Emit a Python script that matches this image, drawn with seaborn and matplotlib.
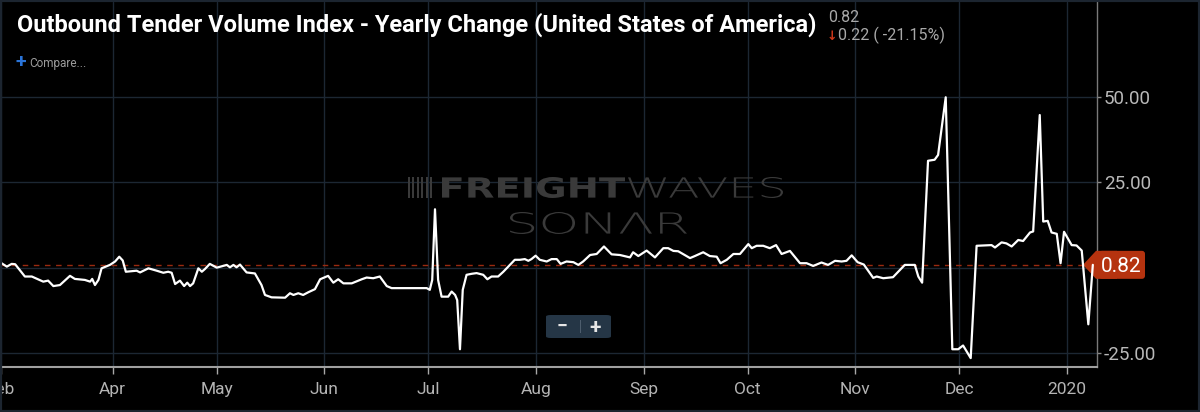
import matplotlib
matplotlib.use('Agg')
import matplotlib.pyplot as plt
import pandas as pd
import seaborn as sns
from matplotlib.font_manager import FontProperties
from matplotlib.patches import Polygon, FancyBboxPatch, Rectangle, PathPatch
from matplotlib.textpath import TextPath
from matplotlib.transforms import IdentityTransform, Affine2D

# days counted from 2019-03-01, values = yearly change in %
days = [-1.5, 0.5, 1.9, 2.9, 5.7, 7.7, 11.0, 12.4, 13.9, 15.8, 18.7, 20.1, 23.0, 24.5, 25.1, 25.9,
        26.9, 27.8, 30.2, 31.7, 32.9, 33.9, 34.8, 37.9, 38.9, 41.3, 43.7, 45.6, 47.0, 48.0, 49.0,
        50.4, 51.6, 52.5, 53.3, 54.2, 55.7, 56.7, 57.6, 59.0, 61.0, 63.9, 64.8, 65.8, 66.7, 67.7,
        69.6, 72.0, 73.9, 74.9, 76.8, 80.7, 82.1, 83.1, 84.5, 85.9, 87.4, 89.3, 90.8, 93.1, 94.6,
        96.0, 97.5, 99.9, 102.8, 104.2, 106.1, 108.0, 110.0, 111.4, 116.7, 121.5, 122.4, 123.1,
        123.9, 124.8, 125.8, 127.7, 128.7, 129.7, 130.3, 131.1, 131.9, 133.0, 134.5, 135.9, 137.8,
        139.0, 140.2, 142.1, 143.6, 145.0, 146.9, 148.4, 149.8, 150.8, 151.7, 152.9, 154.1, 156.1,
        157.5, 159.0, 160.1, 161.8, 163.8, 165.2, 166.6, 168.6, 170.5, 172.6, 174.8, 177.2, 180.1,
        181.0, 182.5, 184.9, 187.3, 189.7, 191.1, 192.6, 194.0, 197.4, 198.8, 201.2, 203.1, 205.1,
        206.2, 208.0, 209.9, 211.8, 214.2, 215.2, 216.6, 218.5, 220.4, 222.2, 223.8, 226.2, 229.1,
        231.0, 232.9, 235.3, 237.2, 239.2, 241.1, 242.5, 244.0, 245.7, 247.5, 250.2, 251.2, 253.1,
        255.9, 259.3, 262.2, 263.2, 264.3, 266.0, 267.9, 268.9, 271.1, 273.0, 274.7, 276.1, 278.3,
        280.0, 282.4, 284.3, 285.3, 287.2, 288.6, 290.1, 292.0, 293.4, 295.4, 296.3, 298.2, 299.2,
        300.5, 301.6, 303.1, 304.2, 305.2, 307.4, 308.8, 310.3, 312.2, 313.5]
values = [1.6, 0.3, 1.1, 1.0, -2.6, -2.6, -4.1, -3.8, -5.4, -5.1, -2.4, -3.3, -3.6, -4.1, -3.3, -5.1,
          -3.6, -0.2, 0.8, 1.8, 3.2, 2.1, -1.2, -0.9, -1.4, -0.2, -0.9, -1.5, -1.2, -1.5, -4.8,
          -3.8, -5.4, -4.4, -5.4, -4.6, -0.2, -1.2, -0.4, 1.1, 0.0, 0.8, 0.1, 0.8, 0.1, 0.9,
          -1.4, -1.7, -5.1, -8.0, -8.7, -8.8, -7.5, -8.0, -7.5, -8.0, -7.2, -6.3, -3.4, -2.4, -4.4,
          -3.4, -4.6, -4.6, -3.4, -2.9, -3.1, -2.6, -5.4, -6.0, -6.0, -6.0, -6.5, -3.6,
          17.1, -3.6, -8.5, -8.5, -7.0, -8.0, -9.5, -23.9, -6.5, -2.1, -1.8, -1.6, -2.1,
          -3.4, -2.6, -2.6, -1.2, 0.3, 2.3, 2.3, 2.5, 2.0, 2.5, 3.5, 2.3, 1.8,
          2.5, 2.5, 1.1, 1.8, 1.6, 0.8, 1.8, 3.7, 4.0, 6.2, 3.9, 3.7, 3.0,
          4.5, 3.4, 5.0, 3.0, 5.7, 5.7, 4.9, 4.8, 2.8, 3.4, 4.5, 3.4, 3.2,
          1.3, 2.3, 4.0, 4.0, 6.9, 5.7, 6.4, 6.4, 5.7, 6.6, 4.0, 4.9, 1.3,
          1.3, 0.5, 1.5, 0.8, 2.0, 1.8, 2.0, 3.6, 1.6, 0.9, -3.0, -2.6, -3.1,
          -2.8, 0.8, 0.8, -2.6, -4.4, 31.3, 31.6, 33.0, 49.9, -23.9, -23.9, -22.8, -26.5,
          6.4, 6.5, 6.6, 5.9, 7.4, 7.1, 6.2, 8.1, 7.8, 10.3, 10.6, 44.7, 13.5,
          13.7, 10.3, 9.9, 1.3, 10.5, 6.6, 6.5, 5.0, -16.6, 0.82]

last_value = 0.82
change_text = '0.22 ( -21.15%)'
title = 'Outbound Tender Volume Index - Yearly Change (United States of America)'

month_ticks = [-1.2, 31, 61, 92, 122, 153, 184, 214, 245, 275, 306]
month_labels = ['Feb', 'Apr', 'May', 'Jun', 'Jul', 'Aug', 'Sep', 'Oct', 'Nov', 'Dec', '2020']
y_ticks = [-25, 0, 25, 50]
y_labels = ['-25.00', '', '25.00', '50.00']

sns.set_theme(style='dark')
plt.rcParams['font.family'] = ['Roboto', 'DejaVu Sans']

W, H = 1200, 412
fig = plt.figure(figsize=(W / 100, H / 100), dpi=100, facecolor='black')
ax = fig.add_axes([0, 45 / H, 1097 / W, 365 / H])
ax.set_facecolor('black')

df = pd.DataFrame({'day': days, 'value': values})
sns.lineplot(data=df, x='day', y='value', ax=ax, color='white', lw=1.6,
             estimator=None, sort=False, zorder=5)

ax.set_xlim(-1.47, 314.7)
ax.set_ylim(-29.1, 77.8)
ax.set_xlabel('')
ax.set_ylabel('')

ax.yaxis.tick_right()
ax.set_xticks(month_ticks)
ax.set_xticklabels(month_labels)
ax.set_yticks(y_ticks)
ax.set_yticklabels(y_labels)
ax.tick_params(axis='x', colors='#a8a8a8', labelcolor='#b4b4b4', length=5, width=1,
               pad=6, labelsize=12.5, bottom=True)
ax.tick_params(axis='y', colors='#8a8a8a', labelcolor='#b9b9b9', length=3, width=1,
               pad=2, labelsize=13.5, right=True, left=False)
ax.grid(True, color='#1c2733', lw=1)
ax.set_axisbelow(True)
for side in ['top', 'left']:
    ax.spines[side].set_visible(False)
ax.spines['bottom'].set_color('#a0a0a0')
ax.spines['bottom'].set_linewidth(1.5)
ax.spines['right'].set_color('#7a7a7a')
ax.spines['right'].set_linewidth(1)

# last value guide line and tag (tag sits under the series line)
ax.axhline(last_value, xmax=0.988, color='#9a2a10', lw=1, ls=(0, (4, 4)), zorder=3)
tx, ty = ax.transData.transform((ax.get_xlim()[1], last_value))
ax.add_patch(Polygon([(tx - 14, ty), (tx - 1, ty + 14), (tx + 20, ty + 14),
                      (tx + 20, ty - 14), (tx - 1, ty - 14)],
                     closed=True, fc='#b5330f', ec='none', transform=IdentityTransform(),
                     clip_on=False, zorder=4))
ax.add_patch(FancyBboxPatch((tx + 2, ty - 14), 46, 28, boxstyle='round,pad=0,rounding_size=3',
                            fc='#b5330f', ec='none', transform=IdentityTransform(),
                            clip_on=False, zorder=4))
fig.text(tx + 24, ty, f'{last_value:.2f}', color='white', fontsize=15, ha='center',
         va='center_baseline', transform=IdentityTransform(), zorder=11)

# watermark, stretched to the box it fills in the reference (pixels from top-left)
wm = '#3a3a3a'


def stretched(text, x0, x1, top, bottom, weight):
    path = TextPath((0, 0), text, size=40, prop=FontProperties(family='DejaVu Sans', weight=weight))
    ext = path.get_extents()
    sx = (x1 - x0) / ext.width
    sy = (bottom - top) / ext.height
    tr = Affine2D().translate(-ext.x0, -ext.y0).scale(sx, sy).translate(x0, H - bottom)
    fig.add_artist(PathPatch(tr.transform_path(path), fc=wm, ec='none',
                             transform=IdentityTransform(), zorder=0.2))


stretched('FREIGHT', 442, 625, 177, 198, 'heavy')
stretched('WAVES', 628, 783, 177, 198, 'ultralight')
stretched('SON\u039bR', 510, 687, 212, 234, 'ultralight')
for i in range(6):
    fig.add_artist(Rectangle(((408 + i * 4.4) / W, 1 - 198 / H), 2 / W, 21 / H,
                             transform=fig.transFigure, fc=wm, ec='none', zorder=0.2))

# zoom control
fig.add_artist(FancyBboxPatch((546 / W, 1 - 338 / H), 65 / W, 23 / H,
                              boxstyle='round,pad=0,rounding_size=0.004',
                              transform=fig.transFigure, fc='#253646', ec='none', zorder=6))
fig.text(562 / W, 1 - 327 / H, '\u2212', color='#e6e6e6', fontsize=14, fontweight='bold',
         ha='center', va='center', zorder=7)
fig.text(595 / W, 1 - 327 / H, '+', color='#e6e6e6', fontsize=15, fontweight='bold',
         ha='center', va='center', zorder=7)
fig.add_artist(Rectangle((580 / W, 1 - 333 / H), 1 / W, 13 / H, transform=fig.transFigure,
                         fc='#4d5d6d', ec='none', zorder=7))

# header texts
fig.text(17 / W, 1 - 32 / H, title, color='white', fontsize=17, fontweight='bold',
         family=['Liberation Sans Narrow', 'Roboto', 'DejaVu Sans'], ha='left', va='baseline')
fig.text(828 / W, 1 - 22 / H, f'{last_value:.2f}', color='#a9a9a9', fontsize=11.5,
         ha='left', va='baseline')
fig.text(827 / W, 1 - 40 / H, '\u2193', color='#d0381a', fontsize=9, fontweight='bold',
         family=['DejaVu Sans'], ha='left', va='baseline')
fig.text(838 / W, 1 - 40 / H, change_text, color='#a9a9a9', fontsize=11.5,
         ha='left', va='baseline')
fig.text(15 / W, 1 - 67 / H, '+', color='#2a74d8', fontsize=14, fontweight='bold',
         ha='left', va='baseline')
fig.text(29 / W, 1 - 67 / H, 'Compare...', color='#9c9c9c', fontsize=8.5,
         ha='left', va='baseline')

# frame
fig.add_artist(Rectangle((0, 0), 1, 1, transform=fig.transFigure, fill=False,
                         ec='#1c2530', lw=3, zorder=20))

fig.savefig('out.png', dpi=100, facecolor='black')
